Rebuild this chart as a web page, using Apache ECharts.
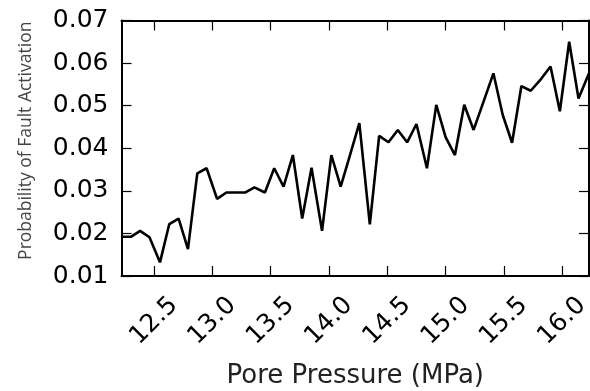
<!DOCTYPE html>
<html>
<head>
<meta charset="utf-8">
<script src="https://cdn.jsdelivr.net/npm/echarts@6/dist/echarts.min.js"></script>
<style>
html,body{margin:0;padding:0;background:#fff;}
#chart{width:590px;height:391px;}
</style>
</head>
<body>
<div id="chart"></div>
<script>
// Data
var porePressure = [12.22, 12.30, 12.38, 12.46, 12.55, 12.63, 12.71, 12.79, 12.87, 12.95,
  13.04, 13.12, 13.20, 13.28, 13.36, 13.45, 13.53, 13.61, 13.69, 13.77,
  13.85, 13.94, 14.02, 14.10, 14.18, 14.26, 14.35, 14.43, 14.51, 14.59,
  14.67, 14.75, 14.84, 14.92, 15.00, 15.08, 15.16, 15.24, 15.33, 15.41,
  15.49, 15.57, 15.65, 15.73, 15.82, 15.90, 15.98, 16.06, 16.14, 16.23];
var probability = [0.0192, 0.0192, 0.0206, 0.0191, 0.0132, 0.0222, 0.0235, 0.0163, 0.0341, 0.0353,
  0.0281, 0.0296, 0.0296, 0.0296, 0.0308, 0.0296, 0.0353, 0.0310, 0.0384, 0.0235,
  0.0354, 0.0206, 0.0384, 0.0310, 0.0384, 0.0459, 0.0221, 0.0429, 0.0414, 0.0443,
  0.0414, 0.0457, 0.0353, 0.0502, 0.0426, 0.0384, 0.0502, 0.0443, 0.0513, 0.0576,
  0.0478, 0.0413, 0.0546, 0.0535, 0.0563, 0.0592, 0.0487, 0.0650, 0.0517, 0.0576];
var xTicks = [12.5, 13.0, 13.5, 14.0, 14.5, 15.0, 15.5, 16.0];
var yTicks = [0.01, 0.02, 0.03, 0.04, 0.05, 0.06, 0.07];
var xName = 'Pore Pressure (MPa)';
var yName = 'Probability of Fault Activation';

var xMin = porePressure[0], xMax = porePressure[porePressure.length - 1];
var yMin = yTicks[0], yMax = yTicks[yTicks.length - 1];

var chart = echarts.init(document.getElementById('chart'), null, {renderer: 'canvas'});
var pts = porePressure.map(function (x, i) { return [x, probability[i]]; });
var lineStyleAxis = {color: '#000', width: 2};

function xAxisDef(pos, main) {
  return {
    type: 'value', position: pos, min: xMin, max: xMax,
    name: main ? xName : '', nameLocation: 'middle', nameGap: 100,
    nameTextStyle: {fontFamily: 'DejaVu Sans', fontSize: 26, color: '#222', verticalAlign: 'middle'},
    axisLine: {show: true, onZero: false, lineStyle: lineStyleAxis},
    axisTick: {show: true, inside: true, length: 10, lineStyle: {color: '#000', width: 1.2}, customValues: xTicks},
    axisLabel: {show: main, customValues: xTicks, rotate: 45, align: 'center', verticalAlign: 'middle', margin: 45,
      fontFamily: 'DejaVu Sans', fontSize: 25, color: '#000',
      formatter: function (v) { return v.toFixed(1); }},
    splitLine: {show: false}
  };
}
function yAxisDef(pos, main) {
  return {
    type: 'value', position: pos, min: yMin, max: yMax, interval: 0.01,
    name: main ? yName : '', nameLocation: 'middle', nameGap: 95,
    nameTextStyle: {fontFamily: 'Open Sans', fontSize: 17.5, color: '#444', verticalAlign: 'middle', padding: [0, 0, 0, 15]},
    axisLine: {show: true, onZero: false, lineStyle: lineStyleAxis},
    axisTick: {show: true, inside: true, length: 10, lineStyle: {color: '#000', width: 1.2}},
    axisLabel: {show: main, margin: 13, fontFamily: 'DejaVu Sans', fontSize: 25, color: '#000',
      formatter: function (v) { return v.toFixed(2); }},
    splitLine: {show: false}
  };
}

chart.setOption({
  animation: false,
  backgroundColor: '#fff',
  grid: {left: 121.5, right: 1, top: 20.5, bottom: 115, containLabel: false, outerBoundsMode: 'none'},
  xAxis: [xAxisDef('bottom', true), xAxisDef('top', false)],
  yAxis: [yAxisDef('left', true), yAxisDef('right', false)],
  series: [{
    type: 'line', data: pts, xAxisIndex: 0, yAxisIndex: 0,
    showSymbol: false, symbol: 'none',
    lineStyle: {color: '#000', width: 2.6}, clip: false
  }]
});
</script>
</body>
</html>
